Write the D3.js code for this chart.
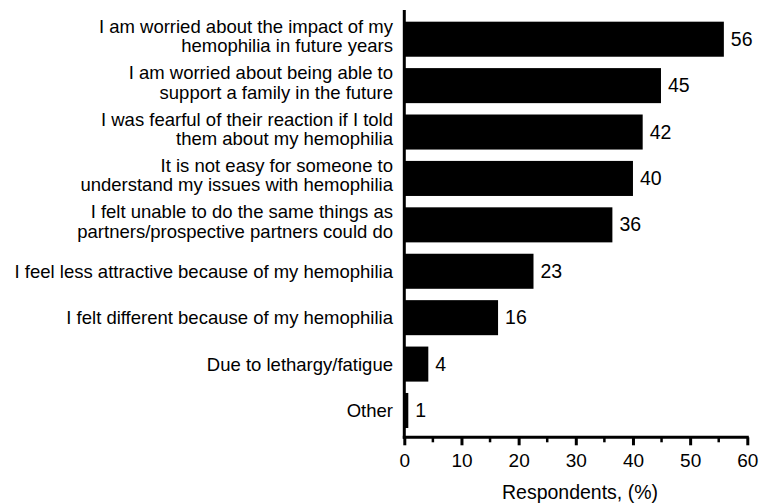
<!DOCTYPE html>
<html>
<head>
<meta charset="utf-8">
<script src="https://cdn.jsdelivr.net/npm/d3@7"></script>
<style>
  body { margin: 0; background: #fff; }
  text { font-family: Arial, "Liberation Sans", sans-serif; fill: #000; }
</style>
</head>
<body>
<div id="chart"></div>
<script>
// categories, top to bottom (each entry = label lines)
const categories = [
  ["I am worried about the impact of my", "hemophilia in future years"],
  ["I am worried about being able to", "support a family in the future"],
  ["I was fearful of their reaction if I told", "them about my hemophilia"],
  ["It is not easy for someone to", "understand my issues with hemophilia"],
  ["I felt unable to do the same things as", "partners/prospective partners could do"],
  ["I feel less attractive because of my hemophilia"],
  ["I felt different because of my hemophilia"],
  ["Due to lethargy/fatigue"],
  ["Other"]
];
const values = [55.9, 44.9, 41.7, 40.0, 36.4, 22.6, 16.4, 4.2, 0.7];
const valueLabels = ["56", "45", "42", "40", "36", "23", "16", "4", "1"];
const xTicks = [0, 10, 20, 30, 40, 50, 60];
const xMinorTicks = [5, 15, 25, 35, 45, 55];
const xTitle = "Respondents, (%)";

const width = 760, height = 504;
const x0 = 404.3, x1 = 747.3, yTop = 10, yAxis = 437.3;

const svg = d3.select("#chart").append("svg")
  .attr("width", width)
  .attr("height", height);

const x = d3.scaleLinear().domain([0, 60]).range([x0, x1]);
const y = d3.scaleBand()
  .domain(d3.range(categories.length))
  .range([16, 433.7])
  .paddingInner(0.245)
  .paddingOuter(0.1225);

// bars
svg.selectAll("rect.bar")
  .data(values)
  .enter()
  .append("rect")
  .attr("class", "bar")
  .attr("x", x(0))
  .attr("y", (d, i) => y(i))
  .attr("width", d => x(d) - x(0))
  .attr("height", y.bandwidth())
  .attr("fill", "#000");

// value labels
svg.selectAll("text.val")
  .data(values)
  .enter()
  .append("text")
  .attr("class", "val")
  .attr("x", d => x(d) + 7)
  .attr("y", (d, i) => y(i) + y.bandwidth() / 2 + 6.5)
  .style("font-size", "19.5px")
  .text((d, i) => valueLabels[i]);

// category labels
const cat = svg.selectAll("text.cat")
  .data(categories)
  .enter()
  .append("text")
  .attr("class", "cat")
  .attr("text-anchor", "end")
  .style("font-size", "18.5px");

cat.each(function(lines, i) {
  const c = y(i) + y.bandwidth() / 2;
  const t = d3.select(this);
  if (lines.length === 1) {
    t.append("tspan").attr("x", 393).attr("y", c + 6.5).text(lines[0]);
  } else {
    t.append("tspan").attr("x", 393).attr("y", c - 6.5).text(lines[0]);
    t.append("tspan").attr("x", 393).attr("y", c + 13).text(lines[1]);
  }
});

// x axis
const xAxis = svg.append("g")
  .attr("transform", `translate(0,${yAxis})`)
  .attr("font-size", 19)
  .call(d3.axisBottom(x).tickValues(xTicks).tickSize(8).tickSizeOuter(0).tickPadding(8));
xAxis.select(".domain").attr("stroke-width", 3).attr("d", `M${x0 - 1.5},0H${x1 + 1.5}`);
xAxis.selectAll(".tick line").attr("stroke-width", 3);
xAxis.selectAll(".tick text").style("font-size", "19px").style("font-family", "Arial, 'Liberation Sans', sans-serif");

svg.append("g")
  .attr("transform", `translate(0,${yAxis})`)
  .selectAll("line")
  .data(xMinorTicks)
  .enter()
  .append("line")
  .attr("x1", d => x(d)).attr("x2", d => x(d))
  .attr("y1", 0).attr("y2", 5)
  .attr("stroke", "#000")
  .attr("stroke-width", 2.5);

// y axis line
svg.append("line")
  .attr("x1", x0).attr("x2", x0)
  .attr("y1", yTop).attr("y2", yAxis + 1.5)
  .attr("stroke", "#000")
  .attr("stroke-width", 3);

// x title
svg.append("text")
  .attr("x", 580)
  .attr("y", 499)
  .attr("text-anchor", "middle")
  .style("font-size", "19.5px")
  .text(xTitle);
</script>
</body>
</html>
